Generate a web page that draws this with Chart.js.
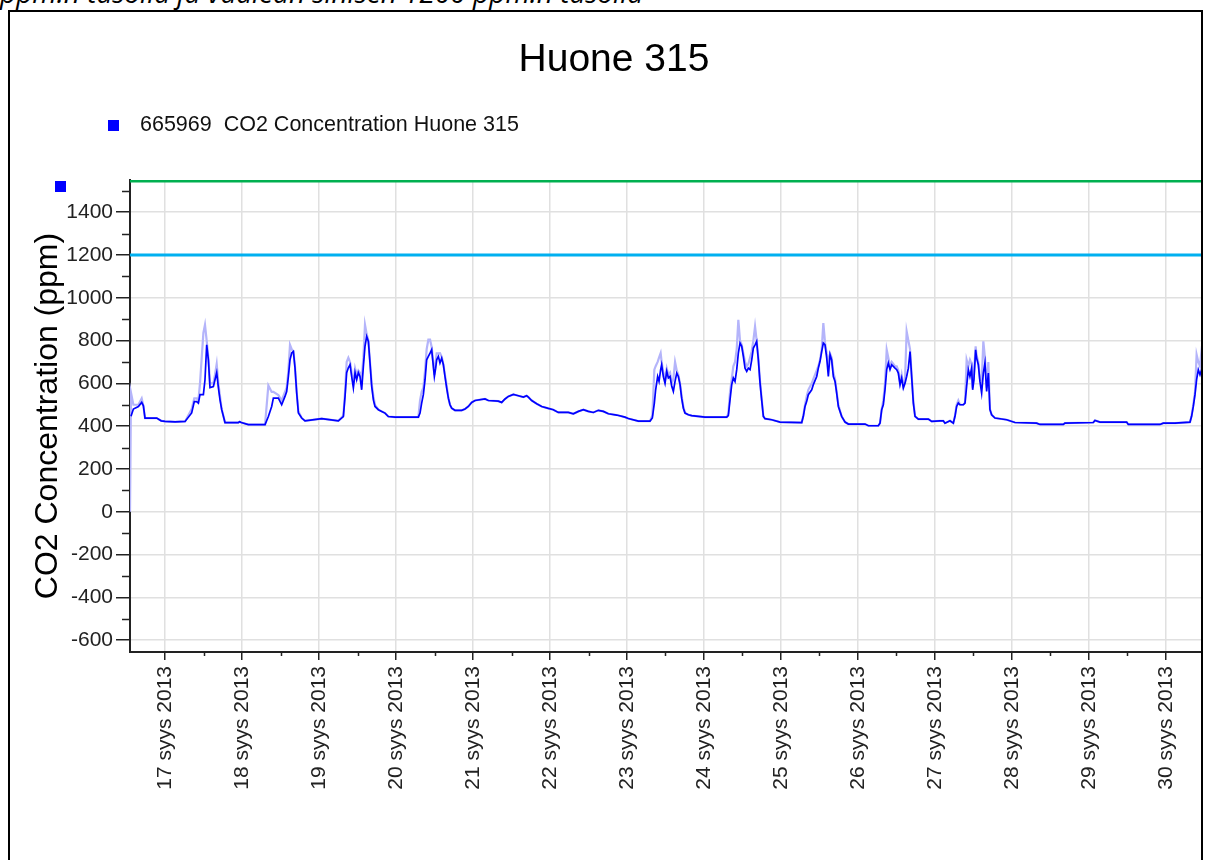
<!DOCTYPE html>
<html>
<head>
<meta charset="utf-8">
<title>Huone 315</title>
<script src="https://cdn.jsdelivr.net/npm/chart.js@4.4.1/dist/chart.umd.min.js"></script>
<style>
  html, body { margin: 0; padding: 0; background: #fff; overflow: hidden; }
  body { width: 1205px; height: 860px; position: relative; font-family: "Liberation Sans", Arial, sans-serif; }
  #wrap { position: absolute; left: 0; top: 0; width: 1205px; height: 860px; }
  #frame { position: absolute; left: 8px; top: 10px; width: 1195px; height: 900px; box-sizing: border-box; border: 2px solid #000; pointer-events: none; }
  #caption { position: absolute; left: 0; top: -22px; font: italic 28px "Open Sans", sans-serif; line-height: 1; white-space: pre; color: #000; }
  #title { position: absolute; left: 414px; top: 38px; width: 400px; text-align: center; font-size: 39px; line-height: 1; color: #000; }
  .swatch { position: absolute; width: 11px; height: 11px; background: #0000ff; }
  #legendText { position: absolute; left: 140px; top: 114px; font-size: 21.5px; line-height: 1; white-space: pre; color: #111; }
</style>
</head>
<body>
<div id="caption">ppm:n tasolla ja vaalean sinisen 1200 ppm:n tasolla</div>
<div id="wrap"><canvas id="co2Chart"></canvas></div>
<div id="frame"></div>
<div id="title">Huone 315</div>
<div class="swatch" style="left:108px; top:120px;"></div>
<div id="legendText">665969  CO2 Concentration Huone 315</div>
<div class="swatch" style="left:55px; top:181px;"></div>
<script>
// time in days of September 2013 (17.5 = 17 syys 12:00)
const times = [
  16.545, 16.558, 16.589, 16.654, 16.697, 16.719, 16.740, 16.892, 16.95,
  17.00, 17.13, 17.26, 17.346, 17.38, 17.411, 17.433, 17.454, 17.498, 17.519, 17.541, 17.563, 17.584, 17.628, 17.649, 17.671, 17.693, 17.714, 17.736, 17.779, 17.952, 17.97,
  17.99, 18.082, 18.299, 18.342, 18.385, 18.407, 18.472, 18.515, 18.558, 18.58, 18.602, 18.623, 18.645, 18.667, 18.688, 18.71, 18.732, 18.775, 18.818, 19.035,
  19.251, 19.316, 19.338, 19.359, 19.381, 19.403, 19.424, 19.446, 19.468, 19.489, 19.511, 19.532, 19.554, 19.576, 19.597, 19.619, 19.641, 19.662, 19.684, 19.706, 19.727, 19.771, 19.814, 19.857, 19.9, 19.987,
  20.29, 20.312, 20.333, 20.355, 20.377, 20.398, 20.42, 20.442, 20.463, 20.485, 20.498, 20.515, 20.528, 20.55, 20.571, 20.593, 20.615, 20.636, 20.658, 20.68, 20.701, 20.723, 20.766, 20.853, 20.896, 20.939, 20.983,
  21.026, 21.156, 21.199, 21.329, 21.372, 21.416, 21.459, 21.524, 21.589, 21.654, 21.697, 21.719, 21.762, 21.827, 21.892, 21.978, 22.043, 22.108, 22.238, 22.303, 22.368, 22.433, 22.498, 22.563, 22.628, 22.693, 22.758, 22.866, 22.974, 23.017, 23.147, 23.299,
  23.329, 23.355, 23.372, 23.398, 23.416, 23.437, 23.45, 23.472, 23.494, 23.516, 23.537, 23.559, 23.581, 23.602, 23.624, 23.646, 23.667, 23.689, 23.710, 23.732, 23.754, 23.797, 23.840, 24.013, 24.295,
  24.316, 24.338, 24.36, 24.381, 24.403, 24.425, 24.446, 24.468, 24.49, 24.511, 24.533, 24.555, 24.576, 24.598, 24.62, 24.641, 24.663, 24.684, 24.706, 24.728, 24.749, 24.771, 24.793, 24.879, 24.988, 25.269,
  25.29, 25.312, 25.334, 25.355, 25.399, 25.42, 25.464, 25.485, 25.507, 25.529, 25.55, 25.572, 25.594, 25.615, 25.637, 25.658, 25.68, 25.702, 25.723, 25.745, 25.788, 25.832, 25.875, 26.091, 26.135, 26.264,
  26.286, 26.308, 26.329, 26.351, 26.373, 26.394, 26.416, 26.438, 26.481, 26.503, 26.524, 26.546, 26.567, 26.589, 26.611, 26.632, 26.654, 26.676, 26.697, 26.719, 26.741, 26.784, 26.914, 26.957,
  27.065, 27.108, 27.13, 27.195, 27.238, 27.26, 27.281, 27.303, 27.325, 27.368, 27.39, 27.411, 27.433, 27.454, 27.476, 27.489, 27.506, 27.528, 27.541, 27.563, 27.584, 27.606, 27.628, 27.649, 27.671, 27.693, 27.714, 27.736, 27.779, 27.931, 28.039,
  28.32, 28.364, 28.667, 28.688, 29.056, 29.078, 29.143, 29.489, 29.511, 29.922, 29.965, 30.117, 30.312, 30.333, 30.355, 30.377, 30.398, 30.42, 30.442, 30.463, 30.485
];

// averaged CO2 (ppm), dark blue line
const co2 = [
  null, 446, 480, 492, 511, 495, 438, 438, 425,
  422, 420, 422, 462, 515, 515, 508, 547, 547, 617, 780, 710, 580, 585, 617, 650, 580, 523, 477, 417, 417, 421,
  417, 407, 407, 445, 492, 531, 531, 500, 539, 562, 632, 710, 742, 749, 673, 556, 462, 438, 425, 435,
  425, 445, 539, 650, 673, 687, 632, 579, 650, 617, 650, 632, 570, 679, 773, 819, 796, 696, 586, 523, 492, 477, 469, 461, 445, 442,
  442, 461, 508, 547, 617, 710, 726, 741, 757, 679, 632, 671, 710, 726, 695, 718, 687, 632, 578, 531, 500, 484, 474, 474, 480, 492, 511,
  520, 527, 520, 517, 511, 527, 539, 548, 542, 536, 542, 536, 520, 505, 492, 483, 477, 464, 464, 458, 469, 477, 469, 464, 474, 469, 458, 452, 442, 436, 424, 424,
  438, 508, 570, 632, 609, 664, 687, 632, 600, 656, 625, 632, 586, 562, 609, 648, 632, 594, 531, 484, 461, 453, 449, 442, 442,
  449, 523, 594, 625, 609, 664, 741, 788, 773, 726, 671, 656, 671, 664, 710, 765, 780, 796, 710, 601, 523, 446, 435, 430, 419, 417,
  446, 492, 516, 547, 570, 594, 632, 671, 703, 749, 788, 780, 718, 632, 734, 710, 632, 609, 555, 492, 446, 419, 410, 410, 402, 402,
  414, 477, 500, 570, 664, 695, 664, 687, 671, 664, 648, 594, 625, 578, 601, 632, 671, 749, 632, 508, 446, 433, 433, 422,
  425, 425, 414, 425, 414, 446, 492, 508, 500, 500, 508, 586, 664, 632, 671, 570, 617, 757, 718, 687, 609, 555, 648, 695, 562, 648, 477, 453, 438, 430, 417,
  414, 408, 408, 414, 417, 427, 419, 419, 408, 408, 414, 414, 419, 446, 492, 547, 617, 664, 640, 664, 648
];

// maximum CO2 (ppm), pale blue line behind
const co2Max = [
  0, 556, 500, 500, 530, 495, 438, 438, 425,
  422, 420, 422, 480, 530, 530, 520, 600, 836, 874, 800, 720, 600, 600, 640, 690, 600, 540, 480, 417, 417, 421,
  417, 407, 407, 590, 560, 560, 545, 520, 560, 580, 660, 780, 760, 750, 680, 560, 470, 438, 425, 435,
  425, 450, 560, 700, 720, 700, 650, 600, 670, 640, 660, 650, 620, 720, 874, 830, 800, 700, 600, 540, 500, 477, 469, 461, 445, 442,
  442, 520, 560, 580, 660, 760, 804, 804, 770, 690, 640, 700, 740, 740, 741, 725, 690, 640, 590, 531, 500, 484, 474, 474, 480, 492, 511,
  520, 527, 520, 517, 511, 527, 539, 548, 542, 536, 542, 536, 520, 505, 492, 483, 477, 464, 464, 458, 469, 477, 469, 464, 474, 469, 458, 452, 442, 436, 424, 424,
  450, 664, 680, 700, 720, 741, 700, 650, 620, 670, 640, 650, 600, 620, 700, 660, 640, 600, 540, 490, 461, 453, 449, 442, 442,
  460, 560, 620, 680, 700, 760, 897, 800, 780, 740, 700, 680, 690, 720, 750, 800, 866, 800, 720, 610, 530, 446, 435, 430, 419, 417,
  450, 500, 540, 570, 600, 620, 660, 680, 710, 760, 882, 790, 740, 700, 740, 720, 650, 620, 560, 500, 446, 419, 410, 410, 402, 402,
  414, 480, 520, 600, 757, 720, 680, 700, 680, 680, 660, 600, 640, 590, 620, 843, 800, 760, 640, 520, 446, 433, 433, 422,
  425, 425, 414, 425, 414, 450, 500, 520, 500, 500, 510, 710, 680, 710, 690, 580, 640, 773, 730, 700, 620, 600, 796, 720, 580, 700, 480, 453, 438, 430, 417,
  414, 408, 408, 414, 417, 427, 419, 419, 408, 408, 414, 414, 419, 450, 500, 560, 734, 700, 680, 757, 740
];

// limit lines (ppm): green and light blue
const limitLevels = [1545, 1200];
const limitColors = ['#00b050', '#00b0f0'];

const dayTicks = [17, 18, 19, 20, 21, 22, 23, 24, 25, 26, 27, 28, 29, 30];
const dayLabels = ['17 syys 2013', '18 syys 2013', '19 syys 2013', '20 syys 2013', '21 syys 2013', '22 syys 2013', '23 syys 2013',
  '24 syys 2013', '25 syys 2013', '26 syys 2013', '27 syys 2013', '28 syys 2013', '29 syys 2013', '30 syys 2013'];
const dayMinorTicks = [17.5, 18.5, 19.5, 20.5, 21.5, 22.5, 23.5, 24.5, 25.5, 26.5, 27.5, 28.5, 29.5];
const yTicks = [-600, -400, -200, 0, 200, 400, 600, 800, 1000, 1200, 1400];
const yMinorTicks = [-500, -300, -100, 100, 300, 500, 700, 900, 1100, 1300, 1500];

const xMin = 16.545;
const xMax = 30.468;

// short ticks between the labelled ones
const minorTicks = {
  id: 'minorTicks',
  afterDraw(chart) {
    const { ctx, chartArea, scales: { x, y } } = chart;
    ctx.save();
    ctx.strokeStyle = '#222';
    ctx.lineWidth = 1.5;
    ctx.beginPath();
    yMinorTicks.forEach(v => {
      const py = Math.round(y.getPixelForValue(v)) + 0.5;
      ctx.moveTo(chartArea.left - 8, py);
      ctx.lineTo(chartArea.left, py);
    });
    dayMinorTicks.forEach(v => {
      const px = Math.round(x.getPixelForValue(v)) + 0.5;
      ctx.moveTo(px, chartArea.bottom);
      ctx.lineTo(px, chartArea.bottom + 4);
    });
    ctx.stroke();
    ctx.restore();
  }
};

const ctx = document.getElementById('co2Chart').getContext('2d');

new Chart(ctx, {
  type: 'line',
  data: {
    datasets: [
      {
        label: '665969 CO2 Concentration Huone 315',
        data: times.map((t, i) => ({ x: t, y: co2[i] })),
        borderColor: '#0000ff',
        borderWidth: 1.7,
        pointRadius: 0,
        tension: 0,
        order: 0
      },
      {
        label: 'max',
        data: times.map((t, i) => ({ x: t, y: co2Max[i] })),
        borderColor: '#b4b4fa',
        borderWidth: 2.2,
        pointRadius: 0,
        tension: 0,
        order: 1
      },
      ...limitLevels.map((level, i) => ({
        label: 'limit ' + level,
        data: [{ x: xMin, y: level }, { x: xMax, y: level }],
        borderColor: limitColors[i],
        borderWidth: 3,
        pointRadius: 0,
        order: 2
      }))
    ]
  },
  options: {
    responsive: true,
    maintainAspectRatio: false,
    animation: false,
    devicePixelRatio: 1,
    layout: { padding: { left: 10, top: 180, right: 3, bottom: 0 } },
    plugins: {
      legend: { display: false },
      title: { display: false },
      tooltip: { enabled: false }
    },
    scales: {
      x: {
        type: 'linear',
        min: xMin,
        max: xMax,
        afterBuildTicks: scale => { scale.ticks = dayTicks.map(value => ({ value })); },
        afterFit: scale => { scale.height = 208; },
        ticks: {
          autoSkip: false,
          minRotation: 90,
          maxRotation: 90,
          padding: 6,
          color: '#222',
          font: { family: 'Liberation Sans', size: 21 },
          callback: (value, index) => dayLabels[index]
        },
        grid: { color: '#e0e0e0', lineWidth: 1.5, tickColor: '#222', tickLength: 8 },
        border: { display: true, color: '#222', width: 2 }
      },
      y: {
        type: 'linear',
        min: -655,
        max: 1550,
        afterBuildTicks: scale => { scale.ticks = yTicks.map(value => ({ value })); },
        afterFit: scale => { scale.width = 120; },
        ticks: {
          padding: 3,
          color: '#222',
          font: { family: 'Liberation Sans', size: 21 },
          callback: value => String(value)
        },
        grid: { color: '#e0e0e0', lineWidth: 1.5, tickColor: '#222', tickLength: 14 },
        border: { display: true, color: '#222', width: 2 },
        title: {
          display: true,
          text: 'CO2 Concentration (ppm)',
          color: '#000',
          font: { family: 'Liberation Sans', size: 32, lineHeight: 1 },
          padding: { top: 22, bottom: 0 }
        }
      }
    }
  },
  plugins: [minorTicks]
});
</script>
</body>
</html>
